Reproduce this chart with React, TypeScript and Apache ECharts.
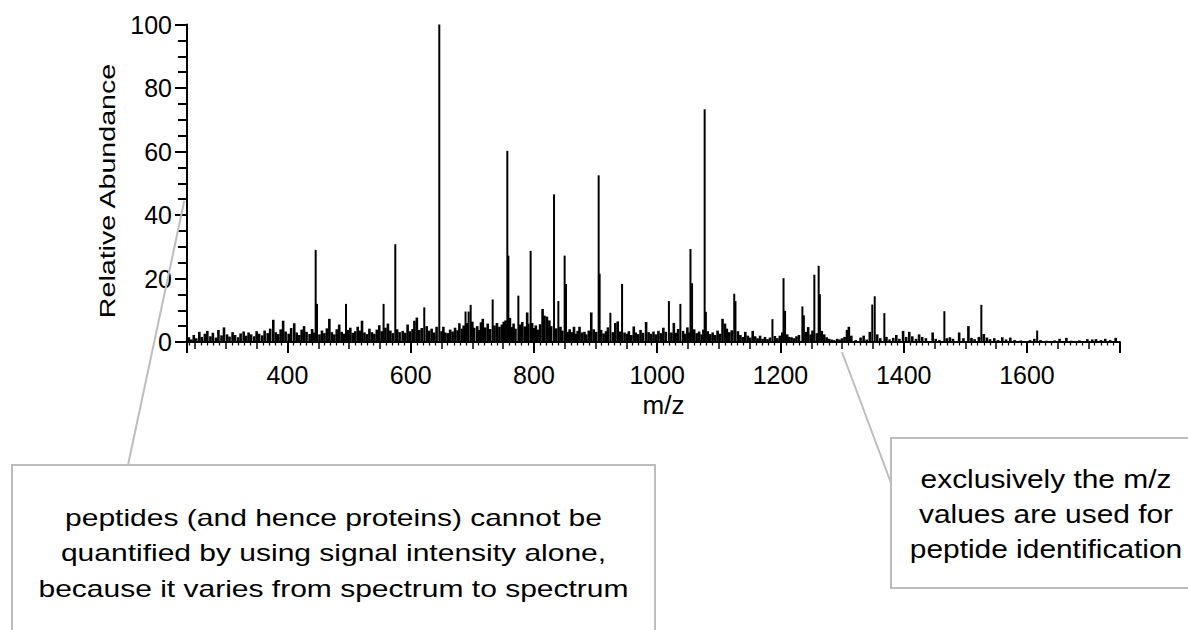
import React, { useEffect, useRef } from "react";
import * as echarts from "echarts";

// m/z axis range and ticks
const mzMin = 237;
const mzMax = 1751;
const xLabelStep = 200;
const yTicks = [0, 20, 40, 60, 80, 100];

// Major peaks [m/z, relative abundance]
const peaks: [number, number][] = [
  [445.8, 29], [448, 12], [495, 12], [556, 12], [575, 30.8], [622, 10.9],
  [646.4, 100], [689, 9.6], [694, 9.6], [697.3, 11.7], [733, 13.4],
  [756.8, 60.2], [758.5, 27.2], [774.7, 14.6], [794.6, 28.7], [832.6, 46.5],
  [839.6, 12.9], [849.8, 27.2], [852, 18.3], [905, 52.5], [906.6, 21.5],
  [924, 9.2], [943, 18.3], [1019, 12.9], [1037.6, 12], [1054, 29.3],
  [1056.6, 18.5], [1077, 73.3], [1079, 9.5], [1125, 15.2], [1127, 12.9],
  [1187, 7.2], [1205, 20.1], [1207.5, 9.8], [1235.6, 11.2], [1238, 8.4],
  [1255, 21.2], [1262, 24], [1264, 15.1], [1349, 11.8], [1353, 14.4],
  [1368.6, 9.1], [1466, 9.7], [1526, 11.7], [1616.6, 3.6],
];

// Low-level signals read from the baseline
const noiseLow: [number, number][] = [
  [240, 1.5], [244, 0.8], [248, 2.2], [252, 1.2], [257, 3.2], [261, 1.6], [266, 2.6],
  [270, 3.5], [275, 1.8], [279, 2.9], [284, 1.4], [288, 3.8], [293, 2.1], [297, 4.6],
  [302, 2.4], [306, 1.7], [311, 3.1], [315, 2.2], [320, 1.5], [324, 2.7], [329, 3.3],
  [333, 2.0], [337, 3.0], [341, 2.4], [346, 1.8], [350, 3.4], [354, 2.6], [359, 2.1],
  [363, 3.6], [368, 2.8], [372, 4.2], [377, 7.0], [381, 3.1], [385, 2.5], [389, 4.0],
  [393, 6.7], [397, 3.3], [402, 2.6], [406, 4.4], [411, 5.9], [415, 3.0], [419, 2.2],
  [423, 3.9], [427, 5.0], [431, 3.2], [436, 2.5], [440, 4.1], [443, 3.0], [452, 2.4],
  [456, 3.6], [460, 2.8], [464, 4.3], [468, 7.3], [472, 3.1], [476, 2.4], [480, 4.0],
  [484, 5.5], [488, 3.2], [492, 2.6], [498, 3.8], [502, 4.5], [506, 2.9], [510, 3.4],
  [514, 4.8], [518, 3.6], [521, 6.7], [525, 3.0], [529, 2.5], [533, 4.2], [537, 3.1],
  [541, 2.6], [545, 3.9], [549, 5.3], [553, 3.4], [559, 4.5],
];

const noiseMid: [number, number][] = [
  [563, 5.8], [567, 3.6], [571, 2.8], [578, 4.0], [582, 3.1], [587, 3.5], [591, 2.9],
  [595, 5.5], [599, 3.4], [603, 4.1], [606, 6.7], [610, 7.7], [614, 3.8], [618, 4.4],
  [626, 5.0], [630, 3.6], [634, 4.2], [638, 3.0], [642, 4.8], [650, 3.4], [653, 4.8],
  [656, 3.0], [660, 2.8], [664, 3.9], [668, 3.3], [672, 4.5], [676, 3.7], [679, 5.9],
  [683, 4.2], [686, 5.2], [691, 6.0], [700, 6.4], [703, 4.5], [708, 5.0], [711, 3.8],
  [714, 6.2], [717, 7.3], [721, 4.6], [725, 5.8], [729, 4.1], [736, 5.2], [740, 6.0],
  [744, 4.8], [748, 5.5], [751, 6.4], [754, 6.8], [761, 7.6], [764, 4.7], [767, 5.8],
  [770, 4.2], [777, 5.5], [781, 6.3], [785, 4.9], [789, 9.3], [791, 5.8], [797, 6.0],
  [800, 4.4], [803, 5.2], [806, 3.9], [810, 5.6], [814, 10.4], [817, 8.3], [821, 8.0],
  [825, 6.8], [828, 5.0], [836, 4.3], [843, 4.8], [846, 3.6], [855, 3.2], [858, 4.0],
];

const noiseHigh: [number, number][] = [
  [862, 3.1], [865, 4.8], [868, 2.6], [871, 3.5], [874, 4.8], [878, 3.0], [882, 3.2],
  [885, 2.4], [889, 3.6], [893, 9.3], [897, 4.0], [901, 3.2], [909, 3.8], [913, 2.7],
  [917, 3.4], [920, 4.6], [928, 3.1], [932, 6.0], [936, 6.5], [940, 3.3], [947, 3.0],
  [951, 2.6], [954, 3.4], [958, 2.2], [962, 4.9], [965, 3.0], [969, 2.5], [973, 3.8],
  [977, 2.9], [982, 6.3], [986, 3.1], [990, 2.6], [994, 3.3], [998, 2.4], [1002, 3.5],
  [1006, 2.8], [1010, 4.5], [1014, 3.2], [1023, 3.0], [1027, 6.0], [1031, 2.9], [1034, 4.1],
  [1042, 3.5], [1045, 2.6], [1049, 4.6], [1052, 3.0], [1060, 4.0], [1064, 2.8], [1068, 3.3],
  [1072, 2.4], [1075, 3.9], [1082, 3.4], [1086, 2.5], [1090, 3.0], [1094, 2.2], [1098, 3.6],
  [1102, 2.6], [1106, 7.3], [1110, 5.8], [1113, 4.2], [1117, 3.1], [1121, 3.7], [1131, 3.4],
  [1135, 2.2], [1139, 1.6], [1143, 3.2], [1147, 2.0], [1151, 1.4], [1155, 3.5], [1159, 1.8],
  [1163, 1.2], [1167, 2.0], [1171, 1.0], [1175, 1.6], [1179, 0.9], [1183, 1.4], [1191, 1.9],
  [1195, 1.2], [1199, 2.0], [1203, 3.0], [1211, 2.4], [1214, 1.6], [1218, 1.5], [1222, 1.2],
  [1226, 1.8], [1230, 2.2], [1241, 3.2], [1245, 4.7], [1249, 2.4], [1252, 3.6], [1259, 2.8],
  [1267, 3.5], [1271, 2.4], [1275, 1.5], [1279, 1.0], [1283, 0.8], [1287, 0.6], [1292, 1.0],
  [1296, 0.8], [1300, 1.2], [1304, 1.6], [1308, 3.8], [1311, 4.8], [1315, 2.0],
];

const noiseTail: [number, number][] = [
  [1322, 0.6], [1330, 1.4], [1335, 2.0], [1340, 0.8], [1345, 3.2], [1357, 2.4], [1362, 1.2],
  [1372, 1.6], [1377, 0.8], [1383, 1.3], [1388, 2.2], [1393, 1.0], [1399, 3.5], [1404, 1.6],
  [1409, 3.2], [1414, 1.8], [1420, 1.0], [1425, 2.4], [1430, 1.6], [1436, 1.2], [1447, 3.0],
  [1452, 1.0], [1458, 0.6], [1470, 1.2], [1475, 1.5], [1480, 1.0], [1490, 3.0], [1497, 1.2],
  [1505, 5.0], [1510, 1.3], [1515, 0.9], [1522, 1.6], [1530, 2.5], [1535, 1.4], [1540, 0.9],
  [1547, 1.2], [1553, 0.6], [1560, 1.5], [1566, 0.8], [1573, 1.4], [1580, 0.6], [1590, 0.5],
  [1605, 0.6], [1612, 1.0], [1622, 0.6], [1632, 0.4], [1645, 0.5], [1653, 1.0], [1664, 1.3],
  [1672, 0.4], [1685, 0.5], [1698, 0.9], [1706, 0.8], [1712, 0.9], [1720, 0.6], [1727, 1.0],
  [1735, 0.6], [1744, 1.3],
];

const yName = "Relative Abundance";
const xName = "m/z";
const leftNote =
  "peptides (and hence proteins) cannot be\nquantified by using signal intensity alone,\nbecause it varies from spectrum to spectrum";
const rightNote = "exclusively the m/z\nvalues are used for\npeptide identification";

const FONT = '"Liberation Sans", Arial, sans-serif';
const BOX = "#bdbdbd";

function stickRenderer(width: number) {
  return (params: any, api: any) => {
    const mz = api.value(0);
    const v = api.value(1);
    const top = api.coord([mz, v]);
    const base = api.coord([mz, 0]);
    return {
      type: "line",
      shape: { x1: top[0], y1: top[1], x2: base[0], y2: base[1] },
      style: { stroke: "#000", lineWidth: width },
    };
  };
}

export default function App() {
  const ref = useRef<HTMLDivElement>(null);
  useEffect(() => {
    if (!ref.current) return;
    const chart = echarts.init(ref.current, null, { renderer: "svg" });
    const noise = [...noiseLow, ...noiseMid, ...noiseHigh, ...noiseTail];
    const labelStyle = { fontFamily: FONT, fontSize: 25, color: "#000" };
    chart.setOption({
      animation: false,
      textStyle: { fontFamily: FONT },
      grid: { left: 187, right: 68, top: 24.5, bottom: 288 },
      xAxis: [
        {
          type: "value",
          position: "bottom",
          min: mzMin,
          max: mzMax,
          splitNumber: 8,
          name: xName,
          nameLocation: "middle",
          nameGap: 50,
          nameTextStyle: { fontFamily: FONT, fontSize: 26, color: "#000", padding: [0, 0, 0, 20] },
          axisLine: { show: true, onZero: false, lineStyle: { color: "#000", width: 2 } },
          axisTick: { show: true, length: 11, lineStyle: { color: "#000", width: 2 } },
          axisLabel: {
            ...labelStyle,
            margin: 20,
            formatter: (v: number) => (v % xLabelStep === 0 ? String(v) : ""),
          },
          splitLine: { show: false },
        },
        {
          type: "value",
          position: "bottom",
          min: mzMin,
          max: mzMax,
          splitNumber: 30,
          axisLine: { show: false, onZero: false },
          axisTick: { show: true, length: 7, lineStyle: { color: "#000", width: 1.5 } },
          minorTick: { show: true, splitNumber: 5, length: 3.5, lineStyle: { color: "#000", width: 1.2 } },
          axisLabel: { show: false },
          splitLine: { show: false },
        },
      ],
      yAxis: {
        type: "value",
        min: yTicks[0],
        max: yTicks[yTicks.length - 1],
        interval: yTicks[1] - yTicks[0],
        axisLine: { show: true, lineStyle: { color: "#000", width: 2 } },
        axisTick: { show: true, length: 12, lineStyle: { color: "#000", width: 2 } },
        minorTick: { show: true, splitNumber: 4, length: 9, lineStyle: { color: "#000", width: 2 } },
        axisLabel: { ...labelStyle, margin: 15 },
        splitLine: { show: false },
      },
      series: [
        {
          type: "custom",
          name: "baseline",
          xAxisIndex: 0,
          yAxisIndex: 0,
          data: noise,
          encode: { x: 0, y: 1 },
          renderItem: stickRenderer(2.6),
        },
        {
          type: "custom",
          name: "peaks",
          xAxisIndex: 0,
          yAxisIndex: 0,
          data: peaks,
          encode: { x: 0, y: 1 },
          renderItem: stickRenderer(2),
        },
      ],
      graphic: [
        {
          type: "text",
          x: 107,
          y: 191,
          rotation: Math.PI / 2,
          scaleX: 1.3,
          style: {
            text: yName,
            font: `22px ${FONT}`,
            fill: "#000",
            textAlign: "center",
            textVerticalAlign: "middle",
            align: "center",
            verticalAlign: "middle",
          },
        },
        {
          type: "line",
          z: 20,
          shape: { x1: 184.3, y1: 200.7, x2: 128, y2: 465 },
          style: { stroke: BOX, lineWidth: 2 },
        },
        {
          type: "line",
          z: 20,
          shape: { x1: 842, y1: 352, x2: 891, y2: 483 },
          style: { stroke: BOX, lineWidth: 2 },
        },
        {
          type: "rect",
          z: 10,
          shape: { x: 12, y: 465, width: 643, height: 200 },
          style: { fill: "#fff", stroke: BOX, lineWidth: 2 },
        },
        {
          type: "rect",
          z: 10,
          shape: { x: 891, y: 438, width: 320, height: 150 },
          style: { fill: "#fff", stroke: BOX, lineWidth: 2 },
        },
        {
          type: "text",
          z: 11,
          x: 333.5,
          y: 553,
          scaleX: 1.25,
          style: {
            text: leftNote,
            font: `24px ${FONT}`,
            lineHeight: 35.5,
            fill: "#000",
            textAlign: "center",
            textVerticalAlign: "middle",
            align: "center",
            verticalAlign: "middle",
          },
        },
        {
          type: "text",
          z: 11,
          x: 1046,
          y: 514,
          scaleX: 1.15,
          style: {
            text: rightNote,
            font: `26px ${FONT}`,
            lineHeight: 35,
            fill: "#000",
            textAlign: "center",
            textVerticalAlign: "middle",
            align: "center",
            verticalAlign: "middle",
          },
        },
      ],
    });
    return () => chart.dispose();
  }, []);
  return (
    <div
      ref={ref}
      style={{ position: "fixed", left: 0, top: 0, width: 1188, height: 630, background: "#fff" }}
    />
  );
}
